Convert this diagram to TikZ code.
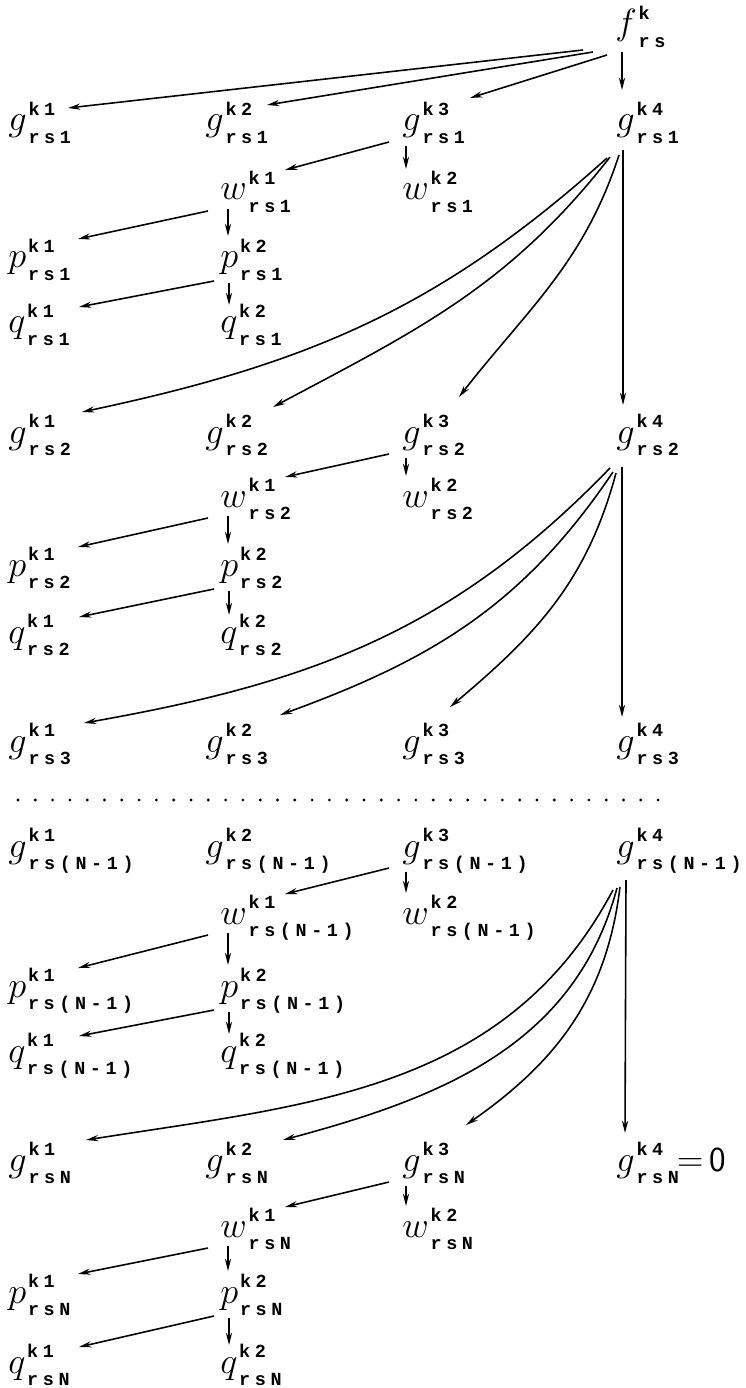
\documentclass[tikz,border=0pt]{standalone}
\usepackage{fontspec}
\usetikzlibrary{arrows.meta}
\newfontfamily\idxfont{Liberation Mono}[LetterSpace=25]
\newcommand\ix[1]{{\fontsize{10.5}{11}\selectfont\idxfont\bfseries #1}}
\newcommand\vx[3]{$#1$\kern1pt\rlap{\raisebox{9pt}{\ix{#2}}}\raisebox{-7pt}{\ix{#3}}}
\tikzset{
  var/.style={anchor=base west, inner sep=0pt, font=\fontsize{20}{24}\selectfont},
  arr/.style={-{Stealth[length=7pt,width=3.5pt]}, line width=0.9pt},
}
\begin{document}
\begin{tikzpicture}[x=0.02cm, y=-0.02cm]
  \useasboundingbox (0,0) rectangle (745,1388);
  % top
  \node[var] (f) at (615,35) {\vx{f}{k}{rs}};
  % g rows
  \foreach \r/\y/\lbl in {1/131/1, 2/443/2, 3/752/3, 4/857/(N-1)} {
    \foreach \c/\x in {1/8, 2/205, 3/402, 4/616} {
      \node[var] (g\r-\c) at (\x,\y) {\vx{g}{k\c}{rs\lbl}};
    }
  }
  \foreach \c/\x in {1/8, 2/205, 3/402} {
    \node[var] (g5-\c) at (\x,1171) {\vx{g}{k\c}{rsN}};
  }
  \node[var] (g5-4) at (616,1171) {\vx{g}{k4}{rsN}\kern-1pt$=$\,\textsf{0}};
  % w, p, q under each row
  \foreach \b/\yw/\yp/\yq/\lbl in {1/200/268/333/1, 2/507/576/643/2, 4/924/997/1062/(N-1), 5/1237/1303/1373/N} {
    \node[var] (w\b-1) at (220,\yw) {\vx{w}{k1}{rs\lbl}};
    \node[var] (w\b-2) at (402,\yw) {\vx{w}{k2}{rs\lbl}};
    \node[var] (p\b-1) at (8,\yp) {\vx{p}{k1}{rs\lbl}};
    \node[var] (p\b-2) at (220,\yp) {\vx{p}{k2}{rs\lbl}};
    \node[var] (q\b-1) at (8,\yq) {\vx{q}{k1}{rs\lbl}};
    \node[var] (q\b-2) at (220,\yq) {\vx{q}{k2}{rs\lbl}};
    \draw[arr] ([shift={(-13,11)}]g\b-3.base west) -- ([shift={(65,-30)}]w\b-1.base west);
    \draw[arr] ([shift={(4,15)}]g\b-3.base west) -- ([shift={(4,-31)}]w\b-2.base west);
    \draw[arr] ([shift={(-12,11)}]w\b-1.base west) -- ([shift={(70,-29)}]p\b-1.base west);
    \draw[arr] ([shift={(8,9)}]w\b-1.base west) -- ([shift={(8,-32)}]p\b-2.base west);
    \draw[arr] ([shift={(-6,13)}]p\b-2.base west) -- ([shift={(71,-26)}]q\b-1.base west);
    \draw[arr] ([shift={(9,15)}]p\b-2.base west) -- ([shift={(9,-28)}]q\b-2.base west);
  }
  % from f
  \draw[arr] ([shift={(-32,15)}]f.base west) -- ([shift={(60,-23)}]g1-1.base west);
  \draw[arr] ([shift={(-22,17)}]f.base west) -- ([shift={(62,-26)}]g1-2.base west);
  \draw[arr] ([shift={(-8,20)}]f.base west) -- ([shift={(68,-33)}]g1-3.base west);
  \draw[arr] ([shift={(7,17)}]f.base west) -- ([shift={(6,-41)}]g1-4.base west);
  % fans from the fourth column
  \draw[arr] ([shift={(-9,27)}]g1-4.base west) to[out=222, in=12] ([shift={(74,-31)}]g2-1.base west);
  \draw[arr] ([shift={(-6,26)}]g1-4.base west) to[out=232, in=28] ([shift={(68,-36)}]g2-2.base west);
  \draw[arr] ([shift={(3,24)}]g1-4.base west) to[out=252, in=52] ([shift={(57,-46)}]g2-3.base west);
  \draw[arr] ([shift={(7,19)}]g1-4.base west) -- ([shift={(7,-38)}]g2-4.base west);
  \draw[arr] ([shift={(-6,25)}]g2-4.base west) to[out=226, in=10] ([shift={(76,-29)}]g3-1.base west);
  \draw[arr] ([shift={(-3,29)}]g2-4.base west) to[out=236, in=20] ([shift={(75,-37)}]g3-2.base west);
  \draw[arr] ([shift={(0,30)}]g2-4.base west) to[out=255, in=40] ([shift={(48,-45)}]g3-3.base west);
  \draw[arr] ([shift={(6,24)}]g2-4.base west) -- ([shift={(6,-35)}]g3-4.base west);
  \draw[arr] ([shift={(-3,33)}]g4-4.base west) to[out=242, in=9] ([shift={(78,-31)}]g5-1.base west);
  \draw[arr] ([shift={(1,31)}]g4-4.base west) to[out=255, in=15] ([shift={(78,-31)}]g5-2.base west);
  \draw[arr] ([shift={(4,30)}]g4-4.base west) to[out=263, in=35] ([shift={(64,-46)}]g5-3.base west);
  \draw[arr] ([shift={(10,23)}]g4-4.base west) -- ([shift={(9,-38)}]g5-4.base west);
  % dotted break
  \foreach \i in {0,...,37} \fill (18+\i*17.3,800) circle (0.9pt);
\end{tikzpicture}
\end{document}
